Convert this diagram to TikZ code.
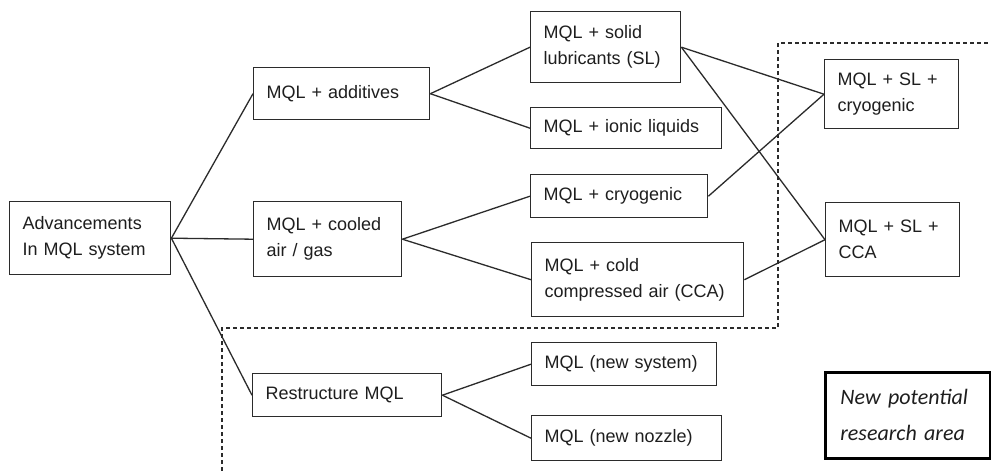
\documentclass[tikz,border=0pt]{standalone}
\usepackage{fontspec}
\setmainfont{Liberation Sans}
\newfontfamily\carl{Carlito}
\definecolor{ink}{HTML}{2B2B2B}
\definecolor{txt}{HTML}{1E1E1E}
\begin{document}
\begin{tikzpicture}[x=1pt,y=-1pt,
  bx/.style={draw=ink, line width=1.4pt, rectangle, anchor=north west,
    inner xsep=13pt, inner ysep=0pt, align=left, text=txt,
    font=\fontsize{18}{26}\selectfont},
  rbox/.style={draw=black, line width=2.8pt, rectangle, anchor=north west,
    inner xsep=15pt, inner ysep=0pt, align=left, text=txt,
    font=\carl\itshape\fontsize{22}{36}\selectfont},
  conn/.style={draw=ink, line width=1.3pt},
  region/.style={draw=ink, line width=1.1pt, dash pattern=on 4pt off 3pt}]
\useasboundingbox (0,0) rectangle (991,471);
\fill[white] (0,0) rectangle (991,471);

\node[bx, minimum height=73pt, text width=135pt] (adv) at (9,201) {Advancements\\In MQL system};
\node[bx, minimum height=52pt, text width=150pt] (add) at (253,67) {MQL + additives};
\node[bx, minimum height=75pt, text width=122pt] (cool) at (253,201) {MQL + cooled\\air / gas};
\node[bx, minimum height=43pt, text width=163pt] (rest) at (252,373) {Restructure MQL};
\node[bx, minimum height=71pt, text width=124pt] (sl) at (530,11) {MQL + solid\\lubricants (SL)};
\node[bx, minimum height=41pt, text width=165pt] (ionic) at (530,107) {MQL + ionic liquids};
\node[bx, minimum height=43pt, text width=151pt] (cryo) at (530,174) {MQL + cryogenic};
\node[bx, minimum height=74pt, text width=186pt] (cca) at (531,242) {MQL + cold\\compressed air (CCA)};
\node[bx, minimum height=43pt, text width=159pt] (newsys) at (531,342) {MQL (new system)};
\node[bx, minimum height=45pt, text width=164pt] (newnoz) at (531,415) {MQL (new nozzle)};
\node[bx, minimum height=69pt, text width=108pt] (slcryo) at (824,59) {MQL + SL +\\cryogenic};
\node[bx, minimum height=74pt, text width=108pt] (slcca) at (825,202) {MQL + SL +\\CCA};
\node[rbox, minimum height=86pt, text width=135pt] (area) at (824,371) {New potential\\research area};

\draw[conn] (adv.east) -- (add.west);
\draw[conn] (adv.east) -- (cool.west);
\draw[conn] (adv.east) -- (rest.west);
\draw[conn] (add.east) -- (sl.west);
\draw[conn] (add.east) -- (ionic.west);
\draw[conn] (cool.east) -- (cryo.west);
\draw[conn] (cool.east) -- (cca.west);
\draw[conn] (rest.east) -- (newsys.west);
\draw[conn] (rest.east) -- (newnoz.west);
\draw[conn] (sl.east) -- (slcryo.west);
\draw[conn] (sl.east) -- (slcca.west);
\draw[conn] (cryo.east) -- (slcryo.west);
\draw[conn] (cca.east) -- (slcca.west);

\draw[region] (222,471) -- (222,328) -- (778,328) -- (778,43) -- (991,43);
\end{tikzpicture}
\end{document}
